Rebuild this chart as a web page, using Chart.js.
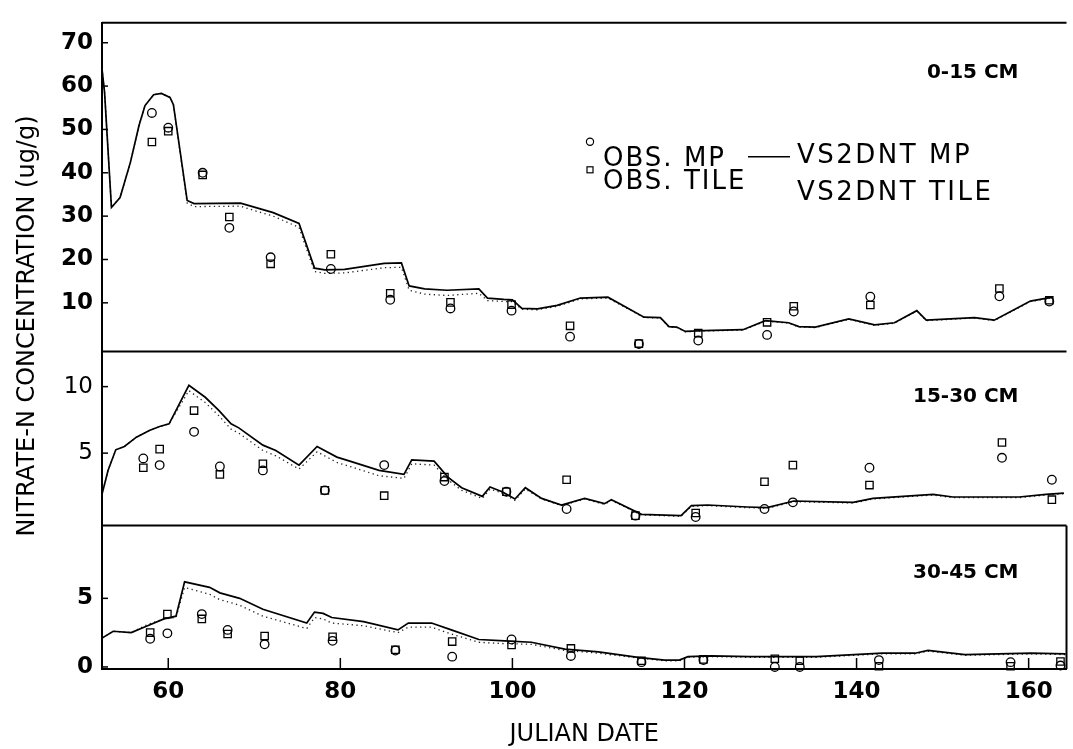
<!DOCTYPE html>
<html>
<head>
<meta charset="utf-8">
<title>Nitrate-N concentration by depth</title>
<script src="https://cdn.jsdelivr.net/npm/chart.js@4.4.1/dist/chart.umd.min.js"></script>
<style>
  html, body { margin: 0; padding: 0; background: #fff; }
  #wrap { position: relative; width: 1073px; height: 749px; }
</style>
</head>
<body>
<div id="wrap"><canvas id="chart" width="1073" height="749"></canvas></div>
<script>
// ---- shared x axis (Julian date) ----
const dayRange = [52.3, 164.4];
const dayTicks = [60, 80, 100, 120, 140, 160];

// ---- 0-15 cm layer ----
const topRange = [-1.2, 74.6];
const topTicks = [10, 20, 30, 40, 50, 60, 70];
const topModelDays = [52.3, 52.6, 53.4, 54.4, 55.6, 56.6, 57.3, 58.3, 59.2, 60.2, 60.6, 62.2, 63.0, 68.4, 70.3, 72.2, 75.2, 77.0, 78.2, 80.5, 85.1, 87.1, 88.0, 89.8, 92.4, 96.1, 97.1, 99.0, 100.0, 101.1, 102.9, 105.2, 107.9, 111.1, 115.3, 117.2, 118.2, 119.1, 120.1, 122.2, 126.8, 129.4, 132.1, 133.3, 135.2, 139.1, 142.1, 144.4, 147.0, 148.1, 153.7, 156.0, 158.3, 160.2, 162.8];
const topModelMP = [64, 58.5, 32, 34.3, 42.4, 50.9, 55.5, 58.0, 58.3, 57.4, 55.7, 33.6, 32.9, 33.0, 31.9, 30.8, 28.3, 18.0, 17.6, 17.7, 19.1, 19.2, 13.9, 13.2, 12.9, 13.2, 11.1, 10.8, 10.7, 8.7, 8.6, 9.4, 11.1, 11.3, 6.7, 6.6, 4.5, 4.4, 3.4, 3.6, 3.8, 5.9, 5.4, 4.5, 4.4, 6.3, 4.9, 5.4, 8.2, 6.0, 6.6, 6.0, 8.4, 10.4, 11.3];
const topModelTile = [64, 58.5, 32, 34.3, 42.4, 50.9, 55.5, 58.0, 58.3, 57.4, 55.7, 33.0, 32.2, 32.3, 31.1, 30.0, 27.4, 17.2, 16.8, 16.9, 18.1, 18.2, 12.9, 12.0, 11.7, 12.2, 10.5, 10.3, 10.3, 8.5, 8.4, 9.2, 10.9, 11.1, 6.6, 6.5, 4.4, 4.3, 3.3, 3.5, 3.7, 5.8, 5.3, 4.4, 4.3, 6.2, 4.8, 5.3, 8.1, 5.9, 6.5, 5.9, 8.3, 10.3, 11.2];
const topObsDays = [58.1, 60.0, 64.0, 67.1, 71.9, 78.9, 85.8, 92.8, 99.9, 106.7, 114.7, 121.6, 129.6, 132.7, 141.6, 156.6, 162.4];
const topObsMP = [53.8, 50.4, 40.0, 27.3, 20.5, 17.8, 10.7, 8.7, 8.2, 2.2, 0.5, 1.3, 2.6, 8.0, 11.4, 11.5, 10.3];
const topObsTile = [47.1, 49.6, 39.5, 29.8, 19.0, 21.2, 12.2, 10.1, 9.6, 4.7, 0.6, 3.0, 5.5, 9.2, 9.5, 13.3, 10.6];

// ---- 15-30 cm layer ----
const midRange = [-0.45, 12.65];
const midTicks = [5, 10];
const midModelDays = [52.3, 53.0, 53.9, 54.9, 56.3, 57.8, 59.0, 60.1, 62.4, 64.3, 65.9, 67.3, 68.2, 71.0, 72.5, 75.2, 77.3, 79.6, 81.1, 84.5, 87.4, 88.3, 90.9, 92.5, 94.1, 96.5, 97.4, 98.8, 100.3, 101.5, 103.4, 105.7, 108.4, 110.7, 111.5, 115.0, 119.6, 120.8, 122.7, 127.3, 129.6, 132.7, 139.6, 141.9, 148.9, 151.2, 155.0, 158.9, 162.0, 164.1];
const midModelMP = [1.9, 3.7, 5.25, 5.5, 6.2, 6.7, 7.0, 7.2, 10.1, 9.2, 8.2, 7.2, 6.9, 5.6, 5.2, 4.1, 5.5, 4.7, 4.4, 3.7, 3.4, 4.5, 4.4, 3.2, 2.4, 1.75, 2.45, 2.1, 1.55, 2.4, 1.6, 1.1, 1.6, 1.2, 1.5, 0.4, 0.3, 1.05, 1.1, 0.95, 0.9, 1.4, 1.3, 1.6, 1.9, 1.7, 1.7, 1.7, 1.9, 2.0];
const midModelTile = [1.9, 3.7, 5.25, 5.5, 6.2, 6.7, 7.0, 7.2, 9.7, 8.8, 7.8, 6.8, 6.5, 5.2, 4.8, 3.8, 5.1, 4.3, 4.0, 3.3, 3.1, 4.2, 4.1, 3.0, 2.2, 1.6, 2.3, 2.0, 1.45, 2.3, 1.55, 1.05, 1.55, 1.15, 1.45, 0.35, 0.25, 1.0, 1.05, 0.9, 0.85, 1.35, 1.25, 1.55, 1.85, 1.65, 1.65, 1.65, 1.85, 1.95];
const midObsDays = [57.1, 59.0, 63.0, 66.0, 71.0, 78.2, 85.1, 92.1, 99.3, 106.3, 114.3, 121.3, 129.3, 132.6, 141.5, 156.9, 162.7];
const midObsMP = [4.6, 4.1, 6.6, 4.0, 3.7, 2.2, 4.1, 2.9, 2.1, 0.8, 0.3, 0.2, 0.8, 1.3, 3.9, 4.65, 3.0];
const midObsTile = [3.9, 5.3, 8.2, 3.4, 4.2, 2.2, 1.8, 3.2, 2.1, 3.0, 0.3, 0.5, 2.85, 4.1, 2.6, 5.8, 1.5];

// ---- 30-45 cm layer ----
const botRange = [-0.15, 10.3];
const botTicks = [0, 5];
const botModelDays = [52.3, 53.6, 55.7, 57.6, 59.5, 60.9, 61.9, 64.8, 66.0, 68.3, 71.0, 76.1, 77.0, 78.0, 79.0, 82.7, 86.7, 87.9, 90.6, 92.9, 96.1, 99.1, 102.2, 106.1, 110.0, 114.6, 117.7, 119.4, 120.4, 123.1, 127.6, 135.3, 143.0, 146.8, 148.3, 152.6, 160.3, 164.3];
const botModelMP = [2.1, 2.6, 2.5, 3.0, 3.5, 3.7, 6.2, 5.8, 5.4, 5.0, 4.2, 3.2, 4.0, 3.9, 3.6, 3.3, 2.7, 3.2, 3.2, 2.7, 2.0, 1.9, 1.8, 1.3, 1.1, 0.7, 0.5, 0.5, 0.75, 0.8, 0.75, 0.75, 1.0, 1.0, 1.2, 0.9, 1.0, 0.95];
const botModelTile = [2.1, 2.6, 2.5, 3.1, 3.5, 3.6, 5.8, 5.3, 4.9, 4.5, 3.7, 2.8, 3.6, 3.5, 3.2, 3.0, 2.5, 2.9, 2.9, 2.4, 1.8, 1.7, 1.65, 1.2, 1.0, 0.65, 0.45, 0.45, 0.7, 0.75, 0.7, 0.7, 0.95, 0.95, 1.15, 0.85, 0.95, 0.9];
const botObsDays = [57.9, 59.9, 63.9, 66.9, 71.2, 79.1, 86.4, 93.0, 99.9, 106.8, 115.0, 122.2, 130.5, 133.4, 142.6, 157.9, 163.7];
const botObsMP = [2.05, 2.45, 3.85, 2.7, 1.65, 1.9, 1.2, 0.75, 2.0, 0.8, 0.35, 0.5, 0.0, 0.0, 0.5, 0.35, 0.1];
const botObsTile = [2.5, 3.85, 3.5, 2.4, 2.25, 2.2, 1.25, 1.85, 1.6, 1.35, 0.45, 0.55, 0.6, 0.45, 0.05, 0.05, 0.4];

// ---- text ----
const yTitle = 'NITRATE-N CONCENTRATION (ug/g)';
const xTitle = 'JULIAN DATE';
const depthLabels = ['0-15 CM', '15-30 CM', '30-45 CM'];
const legendLabels = ['OBS. MP', 'OBS. TILE', 'VS2DNT MP', 'VS2DNT TILE'];

Chart.defaults.font.family = "'DejaVu Sans', 'Liberation Sans', sans-serif";
Chart.defaults.color = '#000';

const INK = '#000';
const xy = (xs, ys) => xs.map((x, i) => ({ x: x, y: ys[i] }));

function simulated(label, xs, ys, axis, dotted) {
  return {
    label: label,
    data: xy(xs, ys),
    yAxisID: axis,
    borderColor: dotted ? '#222' : INK,
    borderWidth: dotted ? 1.3 : 1.7,
    borderDash: dotted ? [1.3, 3.4] : [],
    pointRadius: 0,
    fill: false,
    tension: 0,
    clip: false,
    order: dotted ? 4 : 3
  };
}

function observed(label, xs, ys, axis, style) {
  return {
    label: label,
    data: xy(xs, ys),
    yAxisID: axis,
    showLine: false,
    pointStyle: style,
    pointRadius: style === 'rect' ? 5.2 : 4.3,
    pointBorderWidth: 1.3,
    pointBorderColor: INK,
    pointBackgroundColor: 'rgba(0,0,0,0)',
    borderColor: INK,
    backgroundColor: 'rgba(0,0,0,0)',
    clip: false,
    order: 1
  };
}

function depthAxis(range, ticks, share, rank, fontWeight) {
  return {
    type: 'linear',
    position: 'left',
    stack: 'depth',
    stackWeight: share,
    weight: rank,
    min: range[0],
    max: range[1],
    afterBuildTicks: s => { s.ticks = ticks.map(v => ({ value: v })); },
    afterFit: s => { s.width = 102; },
    grid: { display: false, drawTicks: false },
    border: { display: true, color: INK, width: 2 },
    ticks: { padding: 9, color: INK, font: { size: 23, weight: fontWeight } }
  };
}

function line(ctx, x1, y1, x2, y2) {
  ctx.beginPath();
  ctx.moveTo(x1, y1);
  ctx.lineTo(x2, y2);
  ctx.stroke();
}

// Panel frames and inward tick marks
const panelFrames = {
  id: 'panelFrames',
  afterDatasetsDraw(chart) {
    const { ctx, chartArea: a, scales } = chart;
    const panels = [scales.yTop, scales.yMid, scales.yBot];
    ctx.save();
    ctx.strokeStyle = INK;
    ctx.lineWidth = 2;
    panels.forEach(s => line(ctx, a.left, s.top, a.right, s.top));
    line(ctx, a.right, scales.yBot.top, a.right, scales.yBot.bottom);
    ctx.lineWidth = 1.5;
    panels.forEach(s => {
      s.ticks.forEach(t => {
        const y = s.getPixelForValue(t.value);
        line(ctx, a.left, y, a.left + 6, y);
      });
    });
    scales.x.ticks.forEach(t => {
      const x = scales.x.getPixelForValue(t.value);
      line(ctx, x, a.bottom, x, a.bottom - 11);
    });
    ctx.restore();
  }
};

// Axis title, depth labels and the key
const annotations = {
  id: 'annotations',
  afterDraw(chart) {
    const { ctx, chartArea: a, scales } = chart;
    ctx.save();
    ctx.fillStyle = INK;
    ctx.strokeStyle = INK;

    // vertical axis title
    ctx.save();
    ctx.translate(28, 326);
    ctx.rotate(-Math.PI / 2);
    ctx.font = "24px 'DejaVu Sans'";
    ctx.textAlign = 'center';
    ctx.textBaseline = 'middle';
    ctx.fillText(yTitle, 0, 0);
    ctx.restore();

    // depth labels, upper right of each panel
    const panels = [scales.yTop, scales.yMid, scales.yBot];
    const drops = [50, 45, 47];
    ctx.font = "bold 20px 'DejaVu Sans'";
    ctx.textAlign = 'right';
    ctx.textBaseline = 'middle';
    panels.forEach((s, i) => ctx.fillText(depthLabels[i], a.right - 48, s.top + drops[i]));

    // key
    const kx = a.left + 488;
    const ky = a.top + 119;
    ctx.lineWidth = 1.2;
    ctx.beginPath();
    ctx.arc(kx, ky, 3.6, 0, Math.PI * 2);
    ctx.stroke();
    ctx.strokeRect(kx - 3, ky + 25, 6, 6);
    ctx.lineWidth = 1.6;
    line(ctx, kx + 158, ky + 15, kx + 200, ky + 15);

    ctx.textAlign = 'left';
    ctx.textBaseline = 'alphabetic';
    ctx.font = "26px 'DejaVu Sans'";
    if ('letterSpacing' in ctx) ctx.letterSpacing = '2px';
    ctx.fillText(legendLabels[0], kx + 13, ky + 24);
    ctx.fillText(legendLabels[1], kx + 13, ky + 47);
    if ('letterSpacing' in ctx) ctx.letterSpacing = '2.5px';
    ctx.fillText(legendLabels[2], kx + 207, ky + 21);
    ctx.fillText(legendLabels[3], kx + 207, ky + 58);
    ctx.restore();
  }
};

new Chart(document.getElementById('chart'), {
  type: 'line',
  data: {
    datasets: [
      observed('OBS. MP 0-15', topObsDays, topObsMP, 'yTop', 'circle'),
      observed('OBS. TILE 0-15', topObsDays, topObsTile, 'yTop', 'rect'),
      simulated('VS2DNT MP 0-15', topModelDays, topModelMP, 'yTop', false),
      simulated('VS2DNT TILE 0-15', topModelDays, topModelTile, 'yTop', true),

      observed('OBS. MP 15-30', midObsDays, midObsMP, 'yMid', 'circle'),
      observed('OBS. TILE 15-30', midObsDays, midObsTile, 'yMid', 'rect'),
      simulated('VS2DNT MP 15-30', midModelDays, midModelMP, 'yMid', false),
      simulated('VS2DNT TILE 15-30', midModelDays, midModelTile, 'yMid', true),

      observed('OBS. MP 30-45', botObsDays, botObsMP, 'yBot', 'circle'),
      observed('OBS. TILE 30-45', botObsDays, botObsTile, 'yBot', 'rect'),
      simulated('VS2DNT MP 30-45', botModelDays, botModelMP, 'yBot', false),
      simulated('VS2DNT TILE 30-45', botModelDays, botModelTile, 'yBot', true)
    ]
  },
  options: {
    responsive: false,
    devicePixelRatio: 1,
    animation: false,
    layout: { padding: { left: 0, top: 20, right: 5, bottom: 0 } },
    plugins: {
      legend: { display: false },
      tooltip: { enabled: false }
    },
    scales: {
      x: {
        type: 'linear',
        position: 'bottom',
        min: dayRange[0],
        max: dayRange[1],
        afterBuildTicks: s => { s.ticks = dayTicks.map(v => ({ value: v })); },
        afterFit: s => { s.height = 80; },
        grid: { display: false, drawTicks: false },
        border: { display: true, color: INK, width: 2 },
        ticks: { padding: 9, color: INK, maxRotation: 0, autoSkip: false, font: { size: 23, weight: 'bold' } },
        title: { display: true, text: xTitle, color: INK, font: { size: 24 }, padding: { top: 0, bottom: 0 } }
      },
      yTop: depthAxis(topRange, topTicks, 330, 3, 'bold'),
      yMid: depthAxis(midRange, midTicks, 175, 2, 'normal'),
      yBot: depthAxis(botRange, botTicks, 144, 1, 'bold')
    }
  },
  plugins: [panelFrames, annotations]
});
</script>
</body>
</html>
